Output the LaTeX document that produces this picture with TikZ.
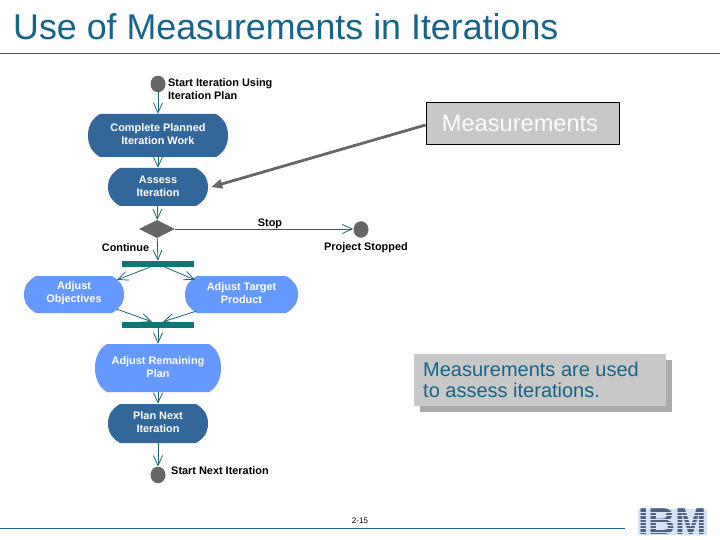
\documentclass[tikz,border=0pt]{standalone}
\usepackage{fontspec}
\setmainfont{Liberation Sans}
\usetikzlibrary{arrows.meta,shapes.geometric,calc}
\definecolor{titleblue}{HTML}{17648A}
\definecolor{darkact}{HTML}{336699}
\definecolor{lightact}{HTML}{6699FF}
\definecolor{flowline}{HTML}{1F6478}
\definecolor{barteal}{HTML}{0F7575}
\definecolor{markgray}{HTML}{666666}
\definecolor{boxgray}{HTML}{C8C8C8}
\definecolor{shadowgray}{HTML}{ABABAB}
\definecolor{logobg}{HTML}{D6E3F7}
\definecolor{logofg}{HTML}{4C6080}
\tikzset{
  x=1pt,y=-1pt,
  flow/.style={draw=flowline,line width=0.8pt,-{Straight Barb[length=10pt,width=9pt,line width=0.8pt]}},
  marker/.style={ellipse,fill=markgray,inner sep=0pt,minimum width=15pt,minimum height=16.5pt},
  forkbar/.style={rectangle,fill=barteal,inner sep=0pt,minimum width=72pt,minimum height=6pt},
  difftext/.style={font=\fontsize{10.9}{13}\selectfont\bfseries,align=center,inner sep=0pt},
  acttext/.style={difftext,text=white},
  lab/.style={difftext,text=black},
}
% name, cx, cy, w, h, colour, text
\newcommand{\activityshape}[7]{%
  \fill[#6] ($(#2,#3)+(-#4/2+12,-#5/2)$) -- ($(#2,#3)+(#4/2-12,-#5/2)$)
    .. controls ($(#2,#3)+(#4/2-5,-#5/2+4)$) and ($(#2,#3)+(#4/2,-#5/4)$) .. ($(#2,#3)+(#4/2,0)$)
    .. controls ($(#2,#3)+(#4/2,#5/4)$) and ($(#2,#3)+(#4/2-5,#5/2-4)$) .. ($(#2,#3)+(#4/2-12,#5/2)$)
    -- ($(#2,#3)+(-#4/2+12,#5/2)$)
    .. controls ($(#2,#3)+(-#4/2+5,#5/2-4)$) and ($(#2,#3)+(-#4/2,#5/4)$) .. ($(#2,#3)+(-#4/2,0)$)
    .. controls ($(#2,#3)+(-#4/2,-#5/4)$) and ($(#2,#3)+(-#4/2+5,-#5/2+4)$) .. cycle;
  \node[inner sep=0pt,minimum width=#4 pt,minimum height=#5 pt] (#1) at (#2,#3) {};
  \node[acttext] (#1text) at ($(#2,#3)+(0,-1)$) {#7};
}
\begin{document}
\begin{tikzpicture}
\useasboundingbox (0,0) rectangle (720,540);
% title and rules
\node[anchor=base west,inner sep=0pt,text=titleblue,font=\fontsize{35.8}{38}\selectfont] (title) at (13,39.5) {Use of Measurements in Iterations};
\coordinate (ruleAL) at (0,53); \coordinate (ruleAR) at (720,53);
\draw[titleblue,line width=0.9pt] (ruleAL) -- (ruleAR);
\coordinate (ruleBL) at (0,528); \coordinate (ruleBR) at (625,528);
\draw[titleblue,line width=0.9pt] (ruleBL) -- (ruleBR);
\node[font=\fontsize{8}{10}\selectfont,inner sep=0pt] (page) at (360,521) {2-15};
% activities
\node[marker] (start) at (158,84) {};
\activityshape{complete}{158}{135.5}{140}{43}{darkact}{Complete Planned\\Iteration Work}
\activityshape{assess}{158}{187}{100}{38}{darkact}{Assess\\Iteration}
\node[diamond,fill=markgray,inner sep=0pt,minimum width=36pt,minimum height=18pt] (dec) at (157,229) {};
\node[marker] (stopped) at (361,229.5) {};
\node[forkbar] (fork) at (158,264) {};
\activityshape{objectives}{74}{294.5}{100}{37}{lightact}{Adjust\\Objectives}
\activityshape{target}{241.5}{294.5}{113}{37}{lightact}{Adjust Target\\Product}
\node[forkbar] (join) at (158,325) {};
\activityshape{remaining}{158}{368}{126}{48}{lightact}{Adjust Remaining\\Plan}
\activityshape{next}{158}{423.5}{100}{39}{darkact}{Plan Next\\Iteration}
\node[marker] (finish) at (158,475) {};
% labels
\node[lab,align=left,anchor=north west] (l1) at (168,78.5) {Start Iteration Using\\Iteration Plan};
\node[lab] (l2) at (270,224) {Stop};
\node[lab] (l3) at (125.5,248) {Continue};
\node[lab] (l4) at (366,248) {Project Stopped};
\node[lab] (l5) at (220,471) {Start Next Iteration};
% flows
\draw[flow] (start) -- (complete);
\draw[flow] (complete) -- (assess);
\draw[flow] (assess) -- (dec);
\draw[flow] (dec.east) -- (dec.east -| stopped.west);
\draw[flow] (dec) -- (fork);
\draw[flow] ([xshift=-8pt]fork.south) -- ([xshift=43pt,yshift=-4pt]objectives.north);
\draw[flow] ([xshift=7pt]fork.south) -- ([xshift=-46.5pt,yshift=-4pt]target.north);
\draw[flow] ([xshift=43pt,yshift=4pt]objectives.south) -- ([xshift=-6pt]join.north);
\draw[flow] ([xshift=-45.5pt,yshift=2pt]target.south) -- ([xshift=5pt]join.north);
\draw[flow] (join) -- (remaining);
\draw[flow] (remaining) -- (next);
\draw[flow] (next) -- (finish);
% boxes
\node[draw=black,fill=boxgray,line width=0.8pt,minimum width=193pt,minimum height=42pt,inner sep=0pt,text=white!92!boxgray,font=\fontsize{23.6}{26}\selectfont] (meas) at (522.5,123) {\hspace*{-5pt}Measurements};
\draw[markgray,line width=2.8pt,-{Triangle[length=11pt,width=9pt]}] ([yshift=-2pt]meas.west) -- ([xshift=3pt]assess.east);
\fill[shadowgray] (420,360) rectangle (672,412);
\node[fill=boxgray,minimum width=252pt,minimum height=52pt,inner sep=0pt] (note) at (540,380) {};
\node[anchor=west,inner sep=0pt,align=left,text=titleblue,font=\fontsize{20}{21}\selectfont] (notetext) at (423,379.5) {Measurements are used\\to assess iterations.};
% logo
\fill[logobg] (638,509) rectangle (707,535);
\node[inner sep=0pt,text=logofg,font=\fontsize{37.5}{38}\selectfont\bfseries] (ibm) at (672.5,522) {IBM};
\foreach \s in {0,...,6} {
  \fill[logobg] (638,512.0+3.25*\s) rectangle (707,513.2+3.25*\s);
}
\end{tikzpicture}
\end{document}
